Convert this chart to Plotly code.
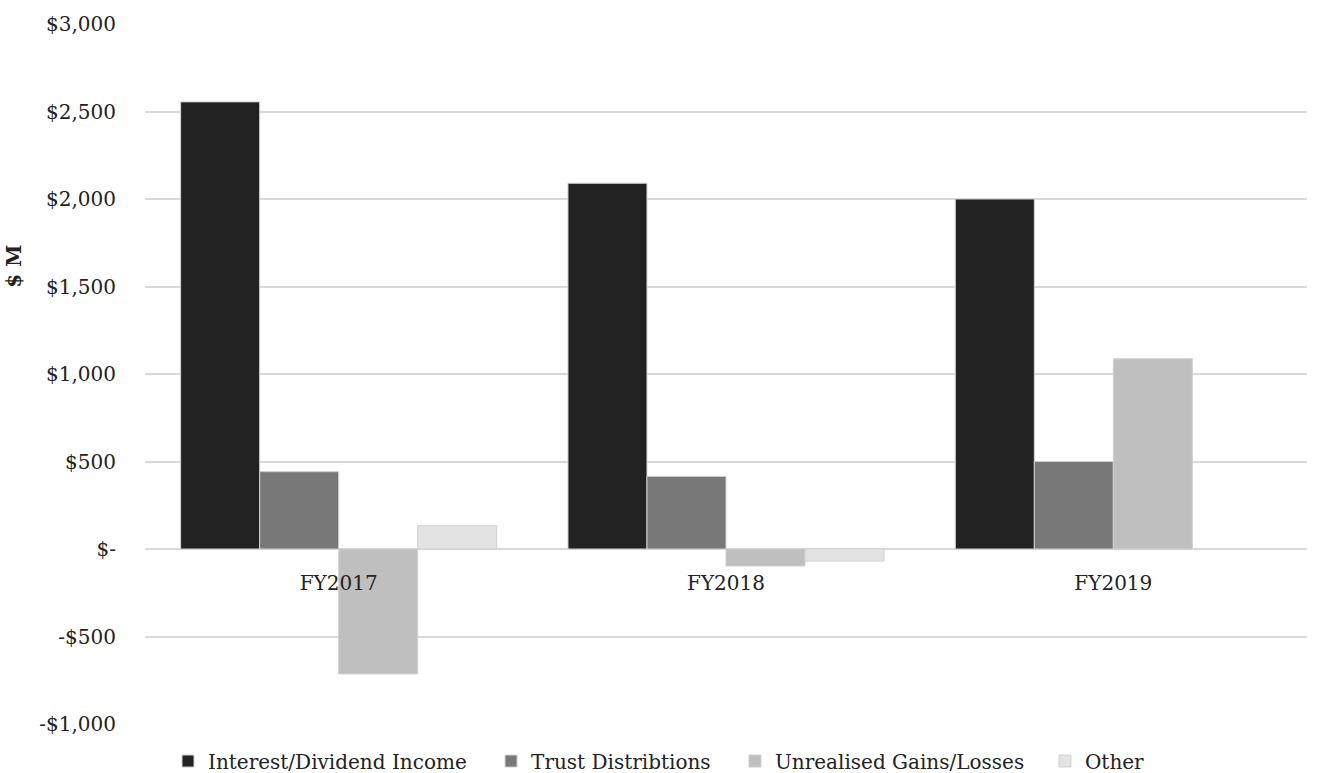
import plotly.graph_objects as go

years = ["FY2017", "FY2018", "FY2019"]
interest_dividend = [2555, 2090, 2000]
trust_distributions = [442, 415, 500]
unrealised = [-714, -97, 1087]
other = [133, -69, None]

series = [
    ("Interest/Dividend Income", interest_dividend, "#222222"),
    ("Trust Distribtions", trust_distributions, "#787878"),
    ("Unrealised Gains/Losses", unrealised, "#bfbfbf"),
    ("Other", other, "#e3e3e3"),
]

tick_vals = [-1000, -500, 0, 500, 1000, 1500, 2000, 2500, 3000]
tick_text = ["-$1,000", "-$500", "$-", "$500", "$1,000", "$1,500", "$2,000", "$2,500", "$3,000"]

FONT = "DejaVu Serif"
FS = 20
TXT = "#222222"

# left edge of each legend entry, in paper fraction of the plot width
legend_x = [0.0198, 0.2978, 0.5077, 0.7745]
legend_ids = ["legend", "legend2", "legend3", "legend4"]

fig = go.Figure()
for (name, vals, color), lid in zip(series, legend_ids):
    fig.add_trace(go.Bar(
        x=years, y=vals, name=name, legend=lid,
        marker=dict(color=color, line=dict(color="#d0d0d0", width=1)),
    ))

y_min, y_max = -1000, 3000
zero_pos = (0 - y_min) / (y_max - y_min)

legend_common = dict(orientation="h", xanchor="left", yref="container", y=0.0155,
                     yanchor="middle", font=dict(family=FONT, size=FS, color=TXT),
                     itemwidth=30, bgcolor="rgba(0,0,0,0)")

fig.update_layout(
    width=1317, height=773,
    margin=dict(l=145, r=10, t=24, b=49, autoexpand=False),
    paper_bgcolor="white", plot_bgcolor="white",
    font=dict(family=FONT, size=FS, color=TXT),
    barmode="group", bargap=0.184, bargroupgap=0,
    showlegend=True,
    xaxis=dict(anchor="free", position=zero_pos, showline=False, showgrid=False,
               ticks="", tickfont=dict(family=FONT, size=FS, color=TXT),
               ticklabelstandoff=20, zeroline=False),
    yaxis=dict(range=[y_min, y_max], tickvals=tick_vals, ticktext=tick_text,
               showgrid=True, gridcolor="#d9d9d9", gridwidth=1.5,
               zeroline=True, zerolinecolor="#d9d9d9", zerolinewidth=1.5,
               ticks="", ticklabelstandoff=28,
               tickfont=dict(family=FONT, size=FS, color=TXT)),
)
for lid, lx in zip(legend_ids, legend_x):
    fig.update_layout({lid: dict(legend_common, x=lx)})

fig.add_annotation(
    text="<b>$ M</b>", textangle=-90, xref="paper", yref="y",
    x=-0.113, y=1617, xanchor="center", yanchor="middle", showarrow=False,
    font=dict(family=FONT, size=FS, color=TXT),
)

fig.write_html("out.html")
